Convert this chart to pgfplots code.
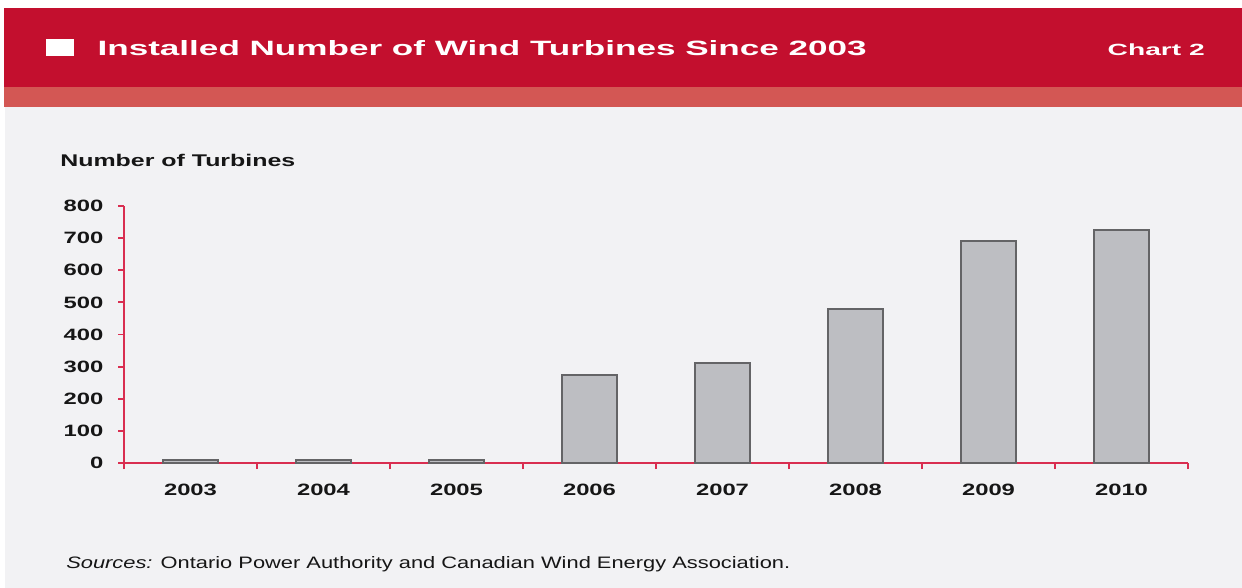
\documentclass[border=0pt]{standalone}
\usepackage{pgfplots}
\pgfplotsset{compat=1.18}
\usepackage{graphicx}
\usepackage{fontspec}
\setmainfont{Liberation Sans}

\definecolor{bannerred}{HTML}{C30F2E}
\definecolor{stripred}{HTML}{D35754}
\definecolor{panelgray}{HTML}{F2F2F4}
\definecolor{axisred}{HTML}{D92E50}
\definecolor{barfill}{HTML}{BDBEC2}
\definecolor{baredge}{HTML}{646466}
\definecolor{ink}{HTML}{161616}

% the whole chart is set in a horizontally widened face
\newcommand\wx[1]{\scalebox{1.45}[1]{#1}}

\begin{document}
\begin{tikzpicture}
\useasboundingbox (0,0) rectangle (931.5pt,-441pt);
% page, header band and panel
\fill[white] (0,0) rectangle (931.5pt,-441pt);
\fill[bannerred] (3pt,-6pt) rectangle (931.5pt,-65.25pt);
\fill[stripred] (3pt,-65.25pt) rectangle (931.5pt,-80.25pt);
\fill[panelgray] (4pt,-80.25pt) rectangle (931.5pt,-441pt);
\fill[white] (34.5pt,-29.25pt) rectangle (55.5pt,-42pt);
\node[anchor=base west, inner sep=0pt, text=white] at (73pt,-42pt)
  {\resizebox{576.75pt}{11.25pt}{\bfseries Installed Number of Wind Turbines Since 2003}};
\node[anchor=base east, inner sep=0pt, text=white] at (903.75pt,-42pt)
  {\resizebox{72.75pt}{8.8pt}{\bfseries Chart 2}};
\node[anchor=base west, inner sep=0pt, text=ink] at (45pt,-125.25pt)
  {\resizebox{176.25pt}{9.2pt}{\bfseries Number of Turbines}};
\node[anchor=base west, inner sep=0pt, text=ink] at (49.5pt,-426pt)
  {\resizebox{543pt}{9pt}{\textit{Sources:} Ontario Power Authority and Canadian Wind Energy Association.}};

\begin{axis}[
  at={(93pt,-347.25pt)}, anchor=south west,
  scale only axis, width=798pt, height=192.75pt,
  xmin=-0.5, xmax=7.5, ymin=0, ymax=800,
  axis lines=left,
  axis line style={-, draw=axisred, line width=1.4pt},
  tick align=outside,
  major tick length=4.5pt,
  tick style={draw=axisred, line width=1.4pt},
  xtick={-0.5,0.5,...,7.5}, xticklabels={},
  extra x ticks={0,1,2,3,4,5,6,7},
  extra x tick labels={\wx{2003},\wx{2004},\wx{2005},\wx{2006},\wx{2007},\wx{2008},\wx{2009},\wx{2010}},
  extra x tick style={major tick length=0pt},
  ytick={0,100,...,800},
  yticklabels={\wx{0},\wx{100},\wx{200},\wx{300},\wx{400},\wx{500},\wx{600},\wx{700},\wx{800}},
  tick label style={font=\fontsize{12.3}{14}\selectfont\bfseries, text=ink},
  xticklabel style={yshift=-12pt},
  yticklabel style={xshift=-7.5pt},
  ybar, bar width=41.25pt,
  clip=false,
]
\addplot[fill=barfill, draw=baredge, line width=1.6pt] coordinates {
  (0,10) (1,10) (2,10) (3,274) (4,310) (5,480) (6,690) (7,724)
};
\end{axis}
\end{tikzpicture}
\end{document}
